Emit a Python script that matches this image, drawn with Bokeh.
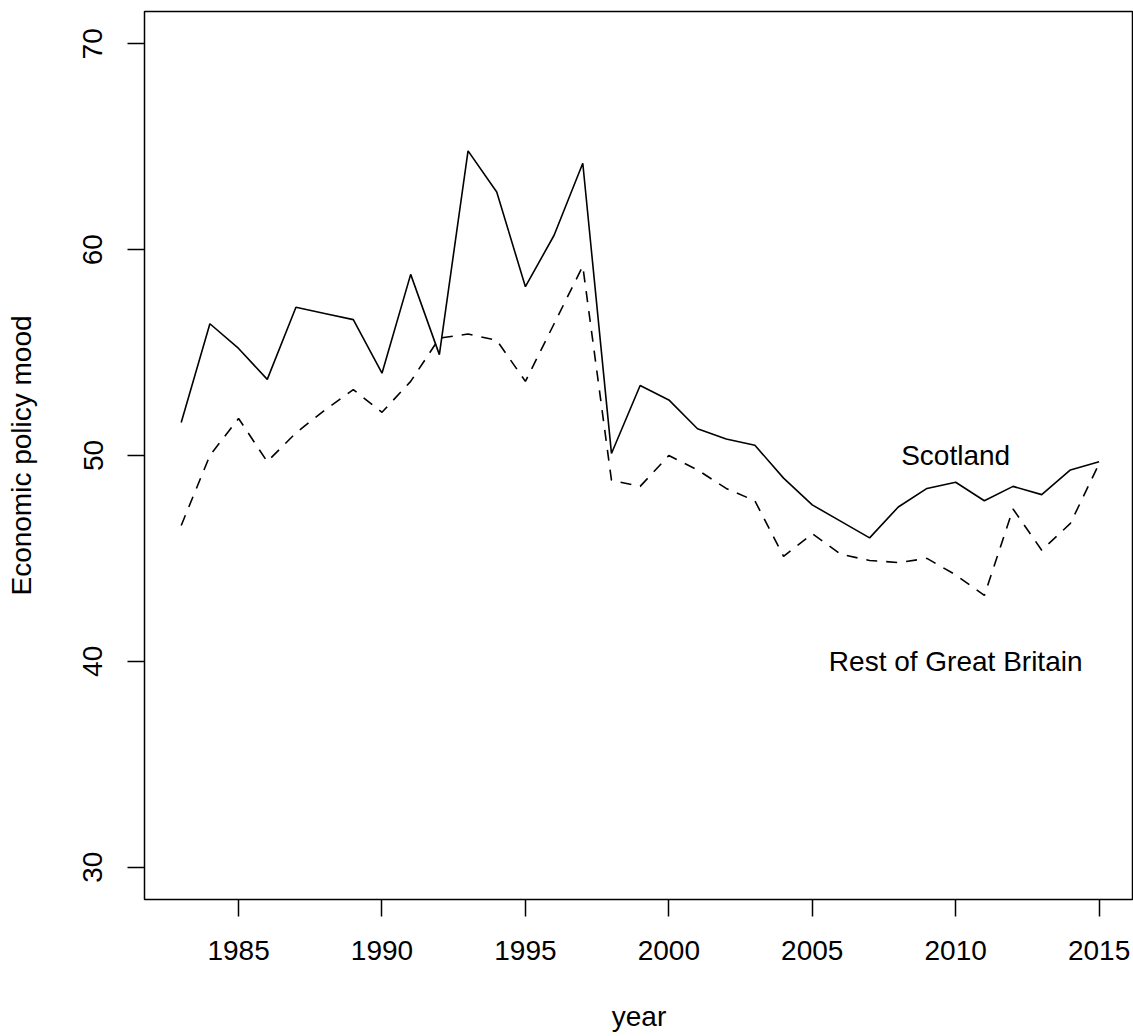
from bokeh.plotting import figure
from bokeh.models import Range1d, FixedTicker, ColumnDataSource
from bokeh.embed import file_html
from bokeh.resources import INLINE
from bokeh.core.properties import value

years = list(range(1983, 2016))
scotland = [51.6, 56.4, 55.2, 53.7, 57.2, 56.9, 56.6, 54.0, 58.8, 54.9,
            64.8, 62.8, 58.2, 60.7, 64.2, 50.1, 53.4, 52.7, 51.3, 50.8,
            50.5, 48.9, 47.6, 46.8, 46.0, 47.5, 48.4, 48.7, 47.8, 48.5,
            48.1, 49.3, 49.7]
rest_gb = [46.6, 50.0, 51.8, 49.7, 51.1, 52.2, 53.2, 52.1, 53.6, 55.7,
           55.9, 55.6, 53.6, 56.4, 59.2, 48.8, 48.5, 50.0, 49.3, 48.4,
           47.8, 45.1, 46.2, 45.2, 44.9, 44.8, 45.0, 44.2, 43.2, 47.4,
           45.4, 46.7, 49.6]
x_ticks = [1985, 1990, 1995, 2000, 2005, 2010, 2015]
y_ticks = [30, 40, 50, 60, 70]
label_names = ["Scotland", "Rest of Great Britain"]
label_x = [2010, 2010]
label_y = [50, 40]

FONT = "Liberation Sans"

p = figure(width=1133, height=1036, output_backend="svg", toolbar_location=None,
           x_range=Range1d(1981.72, 2016.20), y_range=Range1d(28.43, 71.57),
           min_border_left=144, min_border_right=0, min_border_top=11,
           min_border_bottom=137)
p.xgrid.visible = False
p.ygrid.visible = False
p.outline_line_color = "black"
p.outline_line_width = 1.5
p.background_fill_color = "white"
p.border_fill_color = "white"

src = ColumnDataSource(dict(year=years, scot=scotland, rest=rest_gb))
p.line("year", "scot", source=src, line_color="black", line_width=1.6)
p.line("year", "rest", source=src, line_color="black", line_width=1.6,
       line_dash="11 9")

p.text(x=label_x, y=label_y, text=label_names, text_font=value(FONT),
       text_font_size="28px", text_align="center", text_baseline="middle",
       text_color="black")

for ax in (p.xaxis[0], p.yaxis[0]):
    ax.axis_line_color = None
    ax.major_tick_line_color = "black"
    ax.major_tick_line_width = 1.5
    ax.major_tick_out = 17
    ax.major_tick_in = 0
    ax.minor_tick_line_color = None
    ax.major_label_text_font = FONT
    ax.major_label_text_font_size = "28px"
    ax.major_label_text_color = "black"
    ax.axis_label_text_font = FONT
    ax.axis_label_text_font_size = "28px"
    ax.axis_label_text_font_style = "normal"
    ax.axis_label_text_color = "black"

p.xaxis[0].ticker = FixedTicker(ticks=x_ticks)
p.yaxis[0].ticker = FixedTicker(ticks=y_ticks)
p.xaxis[0].axis_label = "year"
p.yaxis[0].axis_label = "Economic policy mood"
p.xaxis[0].major_label_standoff = 24
p.yaxis[0].major_label_standoff = 25
p.yaxis[0].major_label_orientation = "vertical"
p.xaxis[0].axis_label_standoff = 38
p.yaxis[0].axis_label_standoff = 44

open("out.html", "w").write(file_html(p, INLINE))
